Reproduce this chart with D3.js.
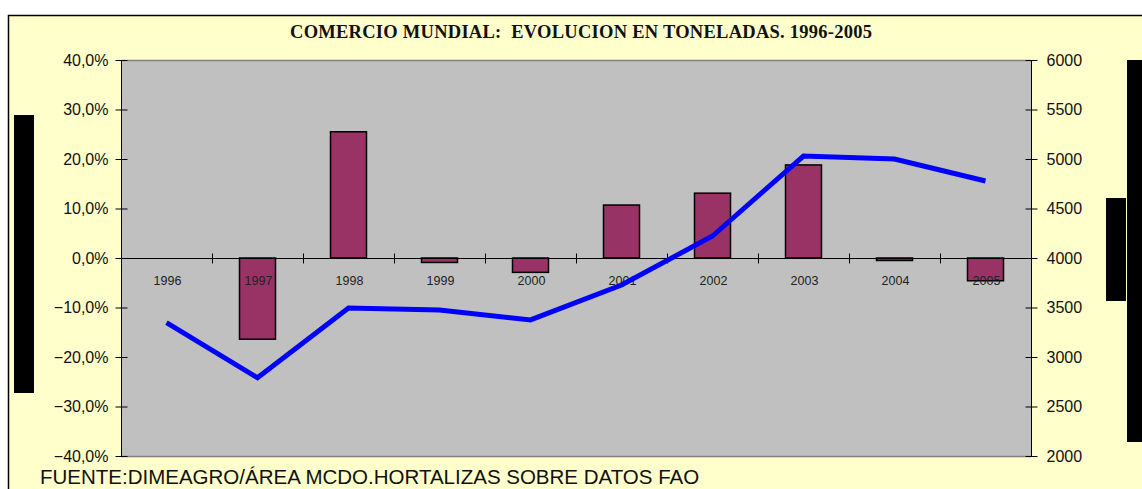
<!DOCTYPE html>
<html><head><meta charset="utf-8">
<script src="https://cdn.jsdelivr.net/npm/d3@7"></script>
<style>body{margin:0;background:#fff}svg{display:block}</style>
</head><body>
<script>
const years = ["1996","1997","1998","1999","2000","2001","2002","2003","2004","2005"];
const pctChange = [0, -16.4, 25.5, -0.9, -2.9, 10.7, 13.1, 18.8, -0.5, -4.6];
const tonnes = [3347, 2790, 3495, 3475, 3375, 3727, 4222, 5030, 5000, 4778];
const leftTicks = [-40,-30,-20,-10,0,10,20,30,40];
const rightTicks = [2000,2500,3000,3500,4000,4500,5000,5500,6000];
const title = "COMERCIO MUNDIAL:  EVOLUCION EN TONELADAS. 1996-2005";
const source = "FUENTE:DIMEAGRO/ÁREA MCDO.HORTALIZAS SOBRE DATOS FAO";

const W = 1142, H = 489;
const svg = d3.select("body").append("svg").attr("width", W).attr("height", H);
svg.append("rect").attr("width", W).attr("height", H).attr("fill", "#fff");
svg.append("rect").attr("x", 8).attr("y", 15).attr("width", W - 8).attr("height", H - 15)
  .attr("fill", "#FFFFCC");
svg.append("path").attr("d", `M8.5,${H}V15.5H${W}`).attr("fill", "none").attr("stroke", "#000").attr("stroke-width", 1.5);

const L = 121, R = 1031, T = 60, B = 456;
const x = d3.scaleBand().domain(years).range([L, R]).paddingInner(0).paddingOuter(0);
const yL = d3.scaleLinear().domain([-40, 40]).range([B, T]);
const yR = d3.scaleLinear().domain([2000, 6000]).range([B, T]);

svg.append("rect").attr("x", L).attr("y", T).attr("width", R - L).attr("height", B - T).attr("fill", "#C0C0C0");
svg.append("line").attr("x1", L).attr("x2", R).attr("y1", T + 0.5).attr("y2", T + 0.5).attr("stroke", "#808080").attr("stroke-width", 1.5);
svg.append("line").attr("x1", L).attr("x2", R).attr("y1", B + 0.5).attr("y2", B + 0.5).attr("stroke", "#808080").attr("stroke-width", 1.5);

// black decoration bars
svg.append("rect").attr("x", 14).attr("y", 115).attr("width", 20).attr("height", 278).attr("fill", "#000");
svg.append("rect").attr("x", 1106).attr("y", 198).attr("width", 20).attr("height", 103).attr("fill", "#000");
svg.append("rect").attr("x", 1127).attr("y", 60).attr("width", 15).attr("height", 382).attr("fill", "#000");

// title
svg.append("text").attr("x", 581).attr("y", 38).attr("text-anchor", "middle")
  .attr("font-family", "Liberation Serif, Times New Roman, serif").attr("font-weight", "bold")
  .attr("font-size", 18.5).attr("fill", "#111").attr("xml:space","preserve")
  .attr("textLength", 582).attr("lengthAdjust", "spacing").text(title);

// left axis
const axL = svg.append("g").attr("transform", `translate(${L + 0.5},0)`)
  .call(d3.axisLeft(yL).tickValues(leftTicks).tickSize(6).tickPadding(7)
    .tickFormat(d => d3.format(".1f")(d).replace(".", ",") + "%"));
axL.selectAll("text").attr("font-family", "Liberation Sans, Arial, sans-serif").attr("font-size", 16).attr("fill", "#111");
axL.selectAll(".tick line").attr("x2", -6).attr("x1", 6).attr("stroke", "#000");
axL.select(".domain").attr("d", `M0,${T}V${B}`).attr("stroke", "#000");

// right axis
const axR = svg.append("g").attr("transform", `translate(${R + 0.5},0)`)
  .call(d3.axisRight(yR).tickValues(rightTicks).tickSize(6).tickPadding(9).tickFormat(d3.format("d")));
axR.selectAll("text").attr("font-family", "Liberation Sans, Arial, sans-serif").attr("font-size", 16).attr("fill", "#111");
axR.selectAll(".tick line").attr("x1", -6).attr("x2", 6).attr("stroke", "#000");
axR.select(".domain").attr("d", `M0,${T}V${B}`).attr("stroke", "#000");

// bars
const bw = 36;
svg.append("g").selectAll("rect").data(years).join("rect")
  .attr("x", d => x(d) + x.bandwidth() / 2 - bw / 2)
  .attr("y", (d, i) => Math.min(yL(pctChange[i]), yL(0)))
  .attr("width", bw)
  .attr("height", (d, i) => Math.abs(yL(pctChange[i]) - yL(0)))
  .attr("fill", "#993366").attr("stroke", (d, i) => pctChange[i] === 0 ? "none" : "#000").attr("stroke-width", 1.5);

// zero line + category ticks
const zy = Math.round(yL(0)) + 0.5;
svg.append("line").attr("x1", L).attr("x2", R).attr("y1", zy).attr("y2", zy).attr("stroke", "#000");
svg.append("g").selectAll("line").data(years.slice(1)).join("line")
  .attr("x1", d => x(d) + 0.5).attr("x2", d => x(d) + 0.5).attr("y1", zy - 5).attr("y2", zy + 5).attr("stroke", "#000");

// category labels
svg.append("g").selectAll("text").data(years).join("text")
  .attr("x", d => x(d) + x.bandwidth() / 2 + 1).attr("y", 285).attr("text-anchor", "middle")
  .attr("font-family", "Liberation Sans, Arial, sans-serif").attr("font-size", 12.5).attr("fill", "#222").text(d => d);

// line
const line = d3.line().x((d, i) => x(years[i]) + x.bandwidth() / 2).y(d => yR(d));
svg.append("path").datum(tonnes).attr("d", line).attr("fill", "none").attr("stroke", "#0000FF")
  .attr("stroke-width", 5).attr("stroke-linejoin", "miter");

// source
svg.append("text").attr("x", 40).attr("y", 484)
  .attr("font-family", "Liberation Sans, Arial, sans-serif").attr("font-size", 20.5).attr("fill", "#111")
  .text(source);
</script>
</body></html>
